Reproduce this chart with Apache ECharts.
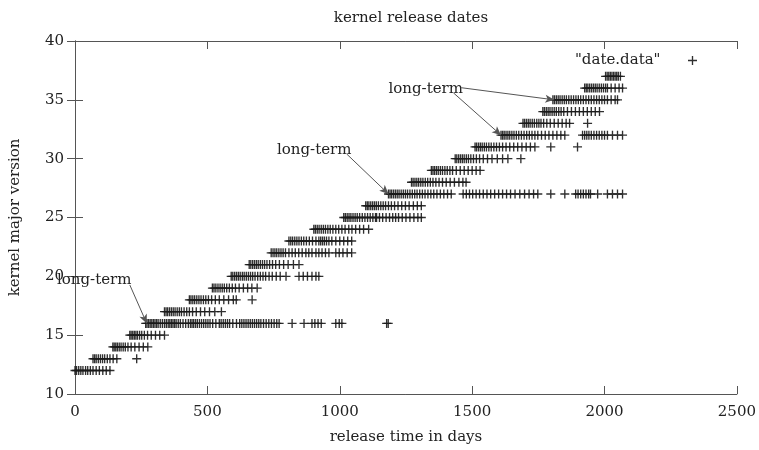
<!DOCTYPE html>
<html>
<head>
<meta charset="utf-8">
<script src="https://cdn.jsdelivr.net/npm/echarts@6/dist/echarts.min.js"></script>
<style>html,body{margin:0;padding:0;background:#fff}#c{width:759px;height:450px}</style>
</head>
<body>
<div id="c"></div>
<script>
// Release days per kernel major version (2.6.x)
const v12 = [0, 6, 14, 22, 30, 40, 48, 58, 68, 80, 92, 105, 118, 132];
const v13 = [68, 74, 80, 88, 96, 104, 112, 122, 132, 144, 158, 233];
const v14 = [143, 148, 154, 160, 167, 174, 182, 190, 200, 212, 226, 242, 258, 275];
const v15 = [207, 212, 218, 224, 230, 236, 244, 252, 262, 274, 288, 304, 320, 338];
const v16 = [267, 272, 278, 284, 290, 296, 302, 308, 314, 322, 330, 338, 345, 352, 358, 364, 370, 376, 382, 390, 398, 408, 418, 428, 436, 442, 448, 455, 462, 470, 478, 486, 494, 502, 510, 520, 532, 545, 552, 560, 568, 576, 584, 596, 610, 622, 630, 638, 646, 654, 662, 670, 678, 686, 694, 702, 712, 722, 732, 742, 752, 762, 771, 820, 865, 895, 906, 918, 930, 985, 998, 1008, 1177, 1183];
const v17 = [338, 344, 350, 357, 364, 371, 378, 386, 394, 402, 412, 422, 432, 444, 458, 474, 490, 508, 528, 553];
const v18 = [432, 438, 445, 452, 460, 468, 476, 485, 494, 504, 516, 530, 545, 562, 580, 598, 609, 669];
const v19 = [519, 525, 532, 540, 548, 556, 564, 573, 583, 594, 606, 620, 636, 652, 668, 688];
const v20 = [590, 596, 603, 610, 617, 624, 632, 639, 647, 655, 663, 671, 680, 690, 700, 710, 720, 733, 745, 760, 775, 797, 846, 862, 878, 895, 910, 921];
const v21 = [658, 664, 671, 678, 685, 692, 700, 708, 716, 725, 735, 746, 758, 772, 788, 805, 825, 846];
const v22 = [741, 748, 755, 762, 770, 778, 786, 795, 808, 820, 832, 845, 858, 872, 883, 895, 910, 921, 933, 946, 959, 985, 998, 1012, 1028, 1045];
const v23 = [808, 815, 822, 830, 838, 846, 855, 864, 874, 885, 897, 910, 921, 928, 935, 942, 950, 959, 970, 985, 1000, 1015, 1030, 1045];
const v24 = [902, 908, 915, 922, 930, 938, 946, 955, 964, 974, 985, 996, 1008, 1020, 1034, 1046, 1060, 1075, 1090, 1109];
const v25 = [1015, 1021, 1028, 1035, 1042, 1050, 1058, 1066, 1075, 1085, 1095, 1105, 1115, 1125, 1135, 1139, 1150, 1162, 1175, 1188, 1200, 1211, 1222, 1236, 1250, 1265, 1280, 1295, 1308];
const v26 = [1098, 1104, 1110, 1117, 1124, 1131, 1138, 1146, 1155, 1164, 1173, 1184, 1195, 1207, 1220, 1234, 1248, 1262, 1278, 1293, 1308];
const v27 = [1184, 1190, 1196, 1203, 1210, 1217, 1224, 1232, 1240, 1248, 1256, 1265, 1274, 1283, 1292, 1302, 1312, 1322, 1333, 1344, 1355, 1367, 1380, 1393, 1407, 1421, 1466, 1478, 1490, 1502, 1515, 1528, 1542, 1556, 1570, 1585, 1600, 1615, 1630, 1645, 1662, 1680, 1698, 1715, 1732, 1748, 1797, 1850, 1891, 1900, 1910, 1920, 1930, 1940, 1947, 1974, 2011, 2030, 2049, 2068];
const v28 = [1271, 1277, 1284, 1291, 1298, 1306, 1314, 1323, 1332, 1342, 1352, 1363, 1375, 1388, 1402, 1417, 1433, 1450, 1465, 1477];
const v29 = [1346, 1352, 1358, 1365, 1372, 1380, 1388, 1397, 1406, 1416, 1426, 1440, 1455, 1470, 1485, 1500, 1515, 1530];
const v30 = [1436, 1442, 1449, 1456, 1463, 1470, 1478, 1486, 1495, 1505, 1516, 1528, 1542, 1558, 1575, 1595, 1615, 1635, 1684];
const v31 = [1511, 1517, 1524, 1531, 1538, 1546, 1554, 1563, 1572, 1582, 1592, 1603, 1615, 1628, 1642, 1657, 1672, 1688, 1704, 1720, 1737, 1797, 1898];
const v32 = [1609, 1615, 1621, 1628, 1635, 1642, 1650, 1658, 1667, 1676, 1686, 1696, 1706, 1716, 1726, 1737, 1748, 1762, 1776, 1790, 1805, 1820, 1835, 1850, 1917, 1925, 1933, 1941, 1950, 1960, 1970, 1980, 1990, 2000, 2011, 2030, 2049, 2068];
const v33 = [1692, 1698, 1705, 1712, 1719, 1727, 1735, 1744, 1752, 1760, 1770, 1782, 1795, 1810, 1825, 1840, 1855, 1868, 1936];
const v34 = [1767, 1773, 1780, 1787, 1794, 1802, 1810, 1818, 1827, 1836, 1846, 1860, 1875, 1890, 1905, 1920, 1935, 1950, 1965, 1981];
const v35 = [1805, 1811, 1818, 1825, 1832, 1840, 1848, 1856, 1865, 1874, 1883, 1892, 1901, 1910, 1920, 1930, 1940, 1950, 1960, 1970, 1980, 1990, 2000, 2011, 2025, 2040, 2049];
const v36 = [1925, 1931, 1937, 1944, 1951, 1958, 1965, 1972, 1980, 1988, 1996, 2004, 2011, 2025, 2040, 2055, 2068];
const v37 = [2004, 2010, 2016, 2022, 2028, 2034, 2040, 2046, 2052, 2060];

const versions = [12, 13, 14, 15, 16, 17, 18, 19, 20, 21, 22, 23, 24, 25, 26, 27, 28, 29, 30, 31, 32, 33, 34, 35, 36, 37];
const daysByVersion = [v12, v13, v14, v15, v16, v17, v18, v19, v20, v21, v22, v23, v24, v25, v26, v27, v28, v29, v30, v31, v32, v33, v34, v35, v36, v37];

// Annotations ("long-term"), in data coordinates
const labelText = 'long-term';
const labelAnchors = [[0, 19.7], [763, 30.7], [1184, 35.95]];
const arrowFrom = [[207, 19.27], [1026, 30.4], [1429, 35.6], [1459, 36.03]];
const arrowTo = [[271, 16], [1184, 27], [1609, 32], [1810, 35]];

const xTicks = {min: 0, max: 2500, interval: 500};
const yTicks = {min: 10, max: 40, interval: 5};

const points = [];
versions.forEach((v, i) => daysByVersion[i].forEach(d => points.push([d, v])));

const FONT = 'DejaVu Serif';
const FS = 15;
const plus = 'path://M0 4.25H10V5.75H0Z M4.25 0H5.75V10H4.25Z';
const frame = '#555';

const chart = echarts.init(document.getElementById('c'), null, {renderer: 'canvas'});
const axisCommon = {
  axisLine: {show: true, lineStyle: {color: frame, width: 1}},
  axisTick: {show: true, inside: true, length: 8, lineStyle: {color: frame}},
  splitLine: {show: false}
};
const plain = v => String(v);
chart.setOption({
  animation: false,
  backgroundColor: '#fff',
  title: {
    text: 'kernel release dates',
    left: 406, textAlign: 'center', top: 6,
    textStyle: {fontFamily: FONT, fontSize: FS, fontWeight: 'normal', color: '#222'}
  },
  grid: {left: 74, right: 19, top: 41, bottom: 52, containLabel: false},
  legend: {
    data: ['"date.data"'],
    right: 57, top: 48, align: 'right',
    itemWidth: 54, itemHeight: 9,
    textStyle: {fontFamily: FONT, fontSize: FS, color: '#222'}
  },
  xAxis: [
    Object.assign({type: 'value', position: 'bottom', min: xTicks.min, max: xTicks.max, interval: xTicks.interval,
      name: 'release time in days', nameLocation: 'middle', nameGap: 36,
      nameTextStyle: {fontFamily: FONT, fontSize: FS, color: '#222'},
      axisLabel: {fontFamily: FONT, fontSize: FS, color: '#222', margin: 11, formatter: plain}}, axisCommon),
    Object.assign({type: 'value', position: 'top', min: xTicks.min, max: xTicks.max, interval: xTicks.interval,
      axisLabel: {show: false}}, axisCommon)
  ],
  yAxis: [
    Object.assign({type: 'value', position: 'left', min: yTicks.min, max: yTicks.max, interval: yTicks.interval,
      name: 'kernel major version', nameLocation: 'middle', nameGap: 52,
      nameTextStyle: {fontFamily: FONT, fontSize: FS, color: '#222'},
      axisLabel: {fontFamily: FONT, fontSize: FS, color: '#222', margin: 11, formatter: plain}}, axisCommon),
    Object.assign({type: 'value', position: 'right', min: yTicks.min, max: yTicks.max, interval: yTicks.interval,
      axisLabel: {show: false}}, axisCommon)
  ],
  series: [
    {
      name: '"date.data"',
      type: 'scatter',
      xAxisIndex: 0, yAxisIndex: 0,
      symbol: plus,
      symbolSize: 9,
      itemStyle: {color: '#1a1a1a', opacity: 0.9},
      data: points,
      z: 3
    },
    {
      name: 'annot',
      type: 'scatter',
      xAxisIndex: 0, yAxisIndex: 0,
      data: [],
      markLine: {
        silent: true,
        symbol: ['none', 'arrow'],
        symbolSize: [6, 9],
        label: {show: false},
        lineStyle: {color: '#555', width: 1, type: 'solid'},
        data: arrowFrom.map((f, i) => [{coord: f}, {coord: arrowTo[i]}])
      },
      markPoint: {
        silent: true,
        symbol: 'circle', symbolSize: 0,
        label: {show: true, position: 'right', distance: 0, formatter: labelText,
          fontFamily: FONT, fontSize: FS, color: '#222'},
        data: labelAnchors.map((a, i) => (i === 0 ? {coord: a, label: {offset: [-18, 0]}} : {coord: a}))
      },
      z: 4
    }
  ]
});
</script>
</body>
</html>
